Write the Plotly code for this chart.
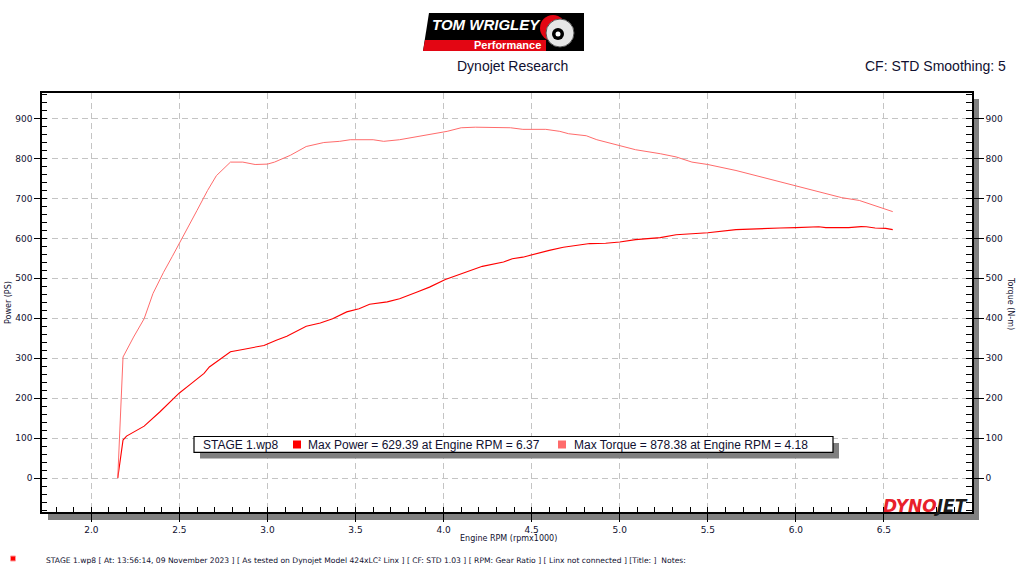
import plotly.graph_objects as go

# engine speed (rpm x1000) vs power (PS)
power_rpm = [2.15, 2.18, 2.20, 2.30, 2.39, 2.46, 2.50, 2.56, 2.64, 2.67, 2.79, 2.86, 2.98,
             3.05, 3.11, 3.22, 3.30, 3.37, 3.45, 3.52, 3.58, 3.68, 3.75, 3.85, 3.92, 4.01,
             4.09, 4.15, 4.22, 4.34, 4.39, 4.45, 4.51, 4.55, 4.60, 4.68, 4.75, 4.83, 4.92,
             5.00, 5.09, 5.23, 5.32, 5.50, 5.66, 5.79, 5.91, 6.00, 6.13, 6.17, 6.30, 6.37,
             6.40, 6.45, 6.51, 6.55]
power_ps = [0, 95, 105, 130, 166, 195, 213, 234, 262, 278, 316, 322, 332,
            345, 355, 380, 388, 399, 416, 424, 435, 441, 449, 466, 478, 497,
            510, 520, 530, 541, 549, 553, 560, 566, 570, 578, 582, 587, 588,
            591, 597, 602, 609, 614, 622, 625, 626, 627, 629, 627, 627, 629.4,
            629, 626, 625, 622]

# engine speed vs torque (N-m)
torque_rpm = [2.15, 2.18, 2.24, 2.30, 2.35, 2.41, 2.46, 2.50, 2.53, 2.60, 2.66, 2.71, 2.79,
              2.86, 2.93, 3.00, 3.04, 3.13, 3.22, 3.32, 3.41, 3.47, 3.60, 3.66, 3.75, 3.85,
              3.92, 4.02, 4.10, 4.18, 4.38, 4.45, 4.58, 4.66, 4.71, 4.81, 4.87, 4.98, 5.09,
              5.23, 5.32, 5.41, 5.50, 5.66, 5.79, 5.89, 6.00, 6.11, 6.19, 6.26, 6.36, 6.43,
              6.55]
torque_nm = [0, 303, 353, 399, 462, 515, 555, 587, 612, 670, 720, 757, 791,
             791, 785, 786, 791, 808, 830, 840, 843, 847, 847, 843, 847, 855,
             860, 868, 877, 878.4, 877, 873, 873, 868, 862, 857, 847, 834, 822,
             812, 804, 791, 785, 770, 755, 745, 732, 720, 709, 702, 695, 685,
             667]

x_ticks = [2.0, 2.5, 3.0, 3.5, 4.0, 4.5, 5.0, 5.5, 6.0, 6.5]
y_ticks = [0, 100, 200, 300, 400, 500, 600, 700, 800, 900]

run_info = ("STAGE 1.wp8 [ At: 13:56:14, 09 November 2023 ] [ As tested on Dynojet Model 424xLC² Linx ] "
            "[ CF: STD 1.03 ] [ RPM: Gear Ratio ] [ Linx not connected ] [Title: ]  Notes:")

POWER_RED = '#FF0000'
TORQUE_RED = '#FF6B6B'
TXT = '#101030'
TAHOMA = 'DejaVu Sans'
SANS = 'Liberation Sans'

# plot box in page pixels, everything decorative is placed relative to it
L, R, T, B = 42, 972, 93, 512


def px(x):
    return (x - L) / (R - L)


def py(y):
    return (B - y) / (B - T)


def box(x0, y0, x1, y1, **kw):
    return dict(type='rect', xref='paper', yref='paper',
                x0=px(x0), x1=px(x1), y0=py(y1), y1=py(y0), **kw)


def disc(cx, cy, r, **kw):
    return dict(type='circle', xref='paper', yref='paper',
                x0=px(cx - r), x1=px(cx + r), y0=py(cy + r), y1=py(cy - r), **kw)


def poly(points, **kw):
    path = 'M ' + ' L '.join(f'{px(a):.5f},{py(b):.5f}' for a, b in points) + ' Z'
    return dict(type='path', xref='paper', yref='paper', path=path, **kw)


def label(x, y, text, size, color=TXT, family=SANS, xanchor='center', **kw):
    return dict(x=px(x), y=py(y), xref='paper', yref='paper', text=text, showarrow=False,
                xanchor=xanchor, yanchor='middle', font=dict(size=size, color=color, family=family), **kw)


fig = go.Figure()
fig.add_trace(go.Scatter(x=power_rpm, y=power_ps, mode='lines', name='Power',
                         line=dict(color=POWER_RED, width=1.1)))
fig.add_trace(go.Scatter(x=torque_rpm, y=torque_nm, mode='lines', name='Torque', yaxis='y2',
                         line=dict(color=TORQUE_RED, width=1)))

no_line = dict(width=0)
shapes = [
    # drop shadow of the plot frame
    box(R + 1, T + 6, R + 7, B + 8, fillcolor='#808080', line=no_line, layer='below'),
    box(L + 6, B + 2, R + 7, B + 8, fillcolor='#808080', line=no_line, layer='below'),
    # legend strip with its shadow
    box(200, 443, 839, 458.5, fillcolor='#808080', line=no_line),
    box(194, 436.5, 833, 452.3, fillcolor='white', line=dict(color='black', width=1.2)),
    box(293, 440.5, 301, 448.5, fillcolor=POWER_RED, line=no_line),
    box(558, 440.5, 566, 448.5, fillcolor=TORQUE_RED, line=no_line),
    # header logo
    poly([(429, 13), (584, 13), (584, 51), (423, 51)], fillcolor='black', line=no_line),
    poly([(425, 40), (546, 40), (546, 51), (423, 51)], fillcolor='#E30613', line=no_line),
    disc(553, 28, 13, fillcolor='#E30613', line=no_line),
    disc(560, 33, 14, fillcolor='#E6E6E6', line=dict(color='#555555', width=1)),
    disc(558, 34, 6, fillcolor='black', line=no_line),
    disc(558, 34, 2.5, fillcolor='white', line=no_line),
    # marker in front of the run details
    box(10.5, 556, 15.5, 561, fillcolor=POWER_RED, line=dict(color='#FF9999', width=1)),
]

annotations = [
    label(486, 25, '<b><i>TOM WRIGLEY</i></b>', 15, color='white'),
    label(507, 45, '<b>Performance</b>', 11, color='white'),
    label(512, 66, 'Dynojet Research', 14),
    label(1008, 66, 'CF: STD Smoothing: 5', 14, xanchor='right'),
    label(8, 303, 'Power (PS)', 8, family=TAHOMA, textangle=-90),
    label(1011, 303, 'Torque (N-m)', 8, family=TAHOMA, textangle=90),
    label(508, 538, 'Engine RPM (rpmx1000)', 8, family=TAHOMA),
    label(201, 444.5, 'STAGE 1.wp8', 12, xanchor='left'),
    label(306, 444.5, 'Max Power = 629.39 at Engine RPM = 6.37', 12, xanchor='left'),
    label(572, 444.5, 'Max Torque = 878.38 at Engine RPM = 4.18', 12, xanchor='left'),
    label(44, 560, run_info, 7.6, family=TAHOMA, xanchor='left'),
    label(970, 506, '<span style="color:#E8202A"><b><i>DYNO</i></b></span>'
                    '<span style="color:#1A1A1A"><b><i>JET</i></b></span>', 17,
          family='DejaVu Sans', xanchor='right'),
]

tick_font = dict(size=9, color=TXT, family=TAHOMA)
fig.update_layout(
    width=1024, height=576,
    margin=dict(l=L, r=1024 - R, t=T, b=576 - B, pad=0),
    paper_bgcolor='white', plot_bgcolor='white',
    showlegend=False,
    shapes=shapes,
    annotations=annotations,
    xaxis=dict(range=[1.72, 7.0], tickvals=x_ticks, tickformat='.1f', tickfont=tick_font,
               showgrid=True, gridcolor='#C4C4C4', griddash='6px,4px', gridwidth=1,
               zeroline=False, showline=True, linecolor='black', linewidth=1.5, mirror=True,
               ticks='outside', ticklen=8, tickcolor='black', tickwidth=1,
               minor=dict(dtick=0.1, tick0=2.0, ticks='inside', ticklen=5, tickcolor='black',
                          showgrid=False)),
    yaxis=dict(range=[-85, 964], tickvals=y_ticks, tickfont=tick_font,
               showgrid=True, gridcolor='#C4C4C4', griddash='6px,4px', gridwidth=1,
               zeroline=False, showline=True, linecolor='black', linewidth=1.5,
               ticks='outside', ticklen=6, tickcolor='black', tickwidth=1,
               minor=dict(dtick=20, tick0=0, ticks='inside', ticklen=5, tickcolor='black',
                          showgrid=False)),
    yaxis2=dict(range=[-85, 964], tickvals=y_ticks, tickfont=tick_font, overlaying='y', side='right',
                showgrid=False, zeroline=False, showline=True, linecolor='black', linewidth=1.5,
                ticks='outside', ticklen=10, tickcolor='black', tickwidth=1,
                minor=dict(dtick=20, tick0=0, ticks='inside', ticklen=6, tickcolor='black')),
)

# the page body has a default 8px margin; drop it so the figure sits flush at 1024x576
fig.write_html("out.html", config={'displayModeBar': False},
               post_script="document.body.style.margin='0';document.body.style.overflow='hidden';")
